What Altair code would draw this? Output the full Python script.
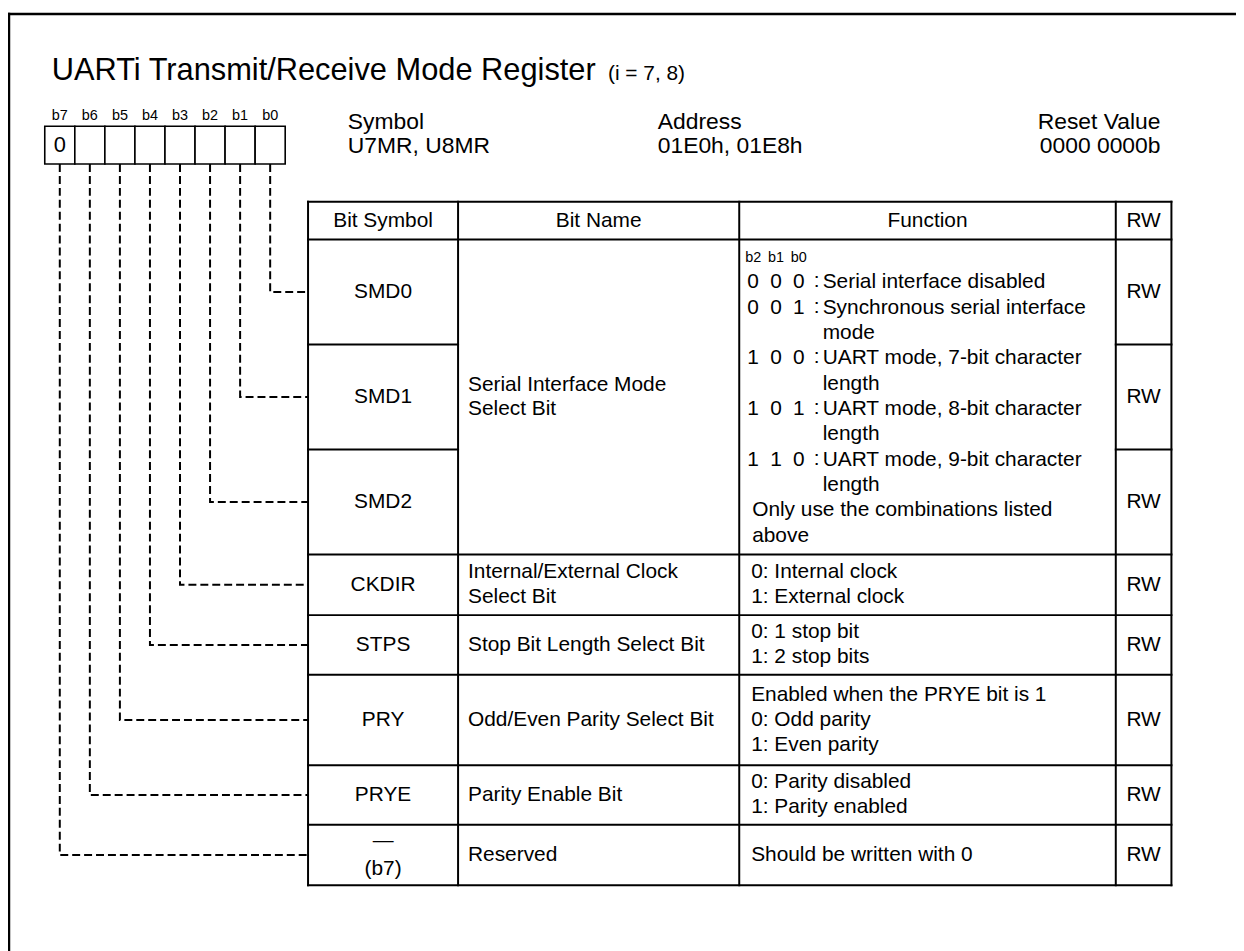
import altair as alt
import pandas as pd

# ---------------- data ----------------
title_main = "UARTi Transmit/Receive Mode Register"
title_sub = "(i = 7, 8)"
bit_labels = ["b7", "b6", "b5", "b4", "b3", "b2", "b1", "b0"]
bit_values = ["0", "", "", "", "", "", "", ""]
info_heads = ["Symbol", "Address", "Reset Value"]
info_vals = ["U7MR, U8MR", "01E0h, 01E8h", "0000 0000b"]
col_heads = ["Bit Symbol", "Bit Name", "Function", "RW"]
symbols = ["SMD0", "SMD1", "SMD2", "CKDIR", "STPS", "PRY", "PRYE", "\u2014\n(b7)"]
row_bits = [0, 1, 2, 3, 4, 5, 6, 7]          # register bit described by each row
names = ["Serial Interface Mode\nSelect Bit", "Internal/External Clock\nSelect Bit",
         "Stop Bit Length Select Bit", "Odd/Even Parity Select Bit",
         "Parity Enable Bit", "Reserved"]
name_span = [3, 1, 1, 1, 1, 1]               # rows covered by each Bit Name cell
smd_bits = ["b2", "b1", "b0"]
smd_codes = [["0", "0", "0"], ["0", "0", "1"], ["1", "0", "0"], ["1", "0", "1"], ["1", "1", "0"]]
smd_desc = ["Serial interface disabled", "Synchronous serial interface\nmode",
            "UART mode, 7-bit character\nlength", "UART mode, 8-bit character\nlength",
            "UART mode, 9-bit character\nlength"]
smd_note = "Only use the combinations listed\nabove"
functions = ["0: Internal clock\n1: External clock", "0: 1 stop bit\n1: 2 stop bits",
             "Enabled when the PRYE bit is 1\n0: Odd parity\n1: Even parity",
             "0: Parity disabled\n1: Parity enabled", "Should be written with 0"]
rw = ["RW", "RW", "RW", "RW", "RW", "RW", "RW", "RW"]

# ---------------- layout ----------------
FONT = "Liberation Sans"
W, H = 1236, 943
OX, OY = 8, 8
FRAME_X, FRAME_Y = 9, 11
TITLE_X, TITLE_Y, TITLE_FS, SUB_FS = 52, 77, 31, 21
SUB_X = TITLE_X + 18.06 * TITLE_FS
BOX_X0, BOX_W, BOX_Y0, BOX_Y1 = 45, 30.25, 124, 162
BITLBL_Y, BITLBL_FS = 118, 14.5
INFO_X = [350, 662, 1168]
INFO_ALIGN = ["left", "left", "right"]
INFO_Y = [120, 144]
INFO_FS = 23
COLS = [310, 461, 744, 1123, 1179]
TOP, HEAD_B = 200, 238
ROW_H = [105.67, 105.67, 105.67, 61, 60, 91, 60, 61]
FS, LH = 21, 25
PAD = 10
SMD_LH = 25.5
SMD_HDR_Y, SMD_FIRST_Y = 257, 281
CODE_X = [758, 781, 804]
COLON_X, DESC_X = 822, 828

xs = alt.Scale(domain=[OX, OX + W], nice=False, zero=False)
ys = alt.Scale(domain=[OY, OY + H], nice=False, zero=False, reverse=True)
X = alt.X("x:Q", scale=xs, axis=None)
Y = alt.Y("y:Q", scale=ys, axis=None)

row_top = [HEAD_B]
for h in ROW_H:
    row_top.append(row_top[-1] + h)
row_mid = [(row_top[i] + row_top[i + 1]) / 2 for i in range(len(ROW_H))]
BOTTOM = row_top[-1]


def lines_at(text, cx, cy, lh):
    parts = text.split("\n")
    n = len(parts)
    return [dict(x=cx, y=cy - (n - 1) / 2 * lh + i * lh, t=p) for i, p in enumerate(parts)]


def text_layer(rows, align="center", fs=FS, baseline="middle"):
    df = pd.DataFrame(rows)
    return alt.Chart(df).mark_text(align=align, baseline=baseline, fontSize=fs, font=FONT,
                                   color="black").encode(x=X, y=Y, text="t:N")


def rule_layer(segs, sw=2):
    df = pd.DataFrame(segs)
    return alt.Chart(df).mark_rule(strokeWidth=sw, color="black", strokeCap="square").encode(
        x=X, y=Y, x2="x2:Q", y2="y2:Q")


layers = []

# frame (top and left edges; the rest lies beyond the picture)
layers.append(rule_layer([dict(x=FRAME_X, y=FRAME_Y, x2=1300, y2=FRAME_Y),
                          dict(x=FRAME_X, y=FRAME_Y, x2=FRAME_X, y2=1000)], sw=2.5))

# title
layers.append(text_layer([dict(x=TITLE_X, y=TITLE_Y, t=title_main)], "left", TITLE_FS, "alphabetic"))
layers.append(text_layer([dict(x=SUB_X, y=TITLE_Y, t=title_sub)], "left", SUB_FS, "alphabetic"))

# bit boxes
cells = pd.DataFrame([dict(x=BOX_X0 + i * BOX_W, x2=BOX_X0 + (i + 1) * BOX_W, y=BOX_Y0, y2=BOX_Y1)
                      for i in range(len(bit_labels))])
layers.append(alt.Chart(cells).mark_rect(fill="white", stroke="black", strokeWidth=1.6)
              .encode(x=X, y=Y, x2="x2:Q", y2="y2:Q"))
cx = [BOX_X0 + (i + 0.5) * BOX_W for i in range(len(bit_labels))]
layers.append(text_layer([dict(x=cx[i], y=BITLBL_Y, t=b) for i, b in enumerate(bit_labels)],
                         "center", BITLBL_FS, "alphabetic"))
layers.append(text_layer([dict(x=cx[i], y=(BOX_Y0 + BOX_Y1) / 2, t=v) for i, v in enumerate(bit_values) if v],
                         "center", 22))

# symbol / address / reset value
for k in range(3):
    layers.append(text_layer([dict(x=INFO_X[k], y=INFO_Y[0], t=info_heads[k]),
                              dict(x=INFO_X[k], y=INFO_Y[1], t=info_vals[k])], INFO_ALIGN[k], INFO_FS))

# table grid
segs = [dict(x=COLS[0], y=TOP, x2=COLS[-1], y2=TOP), dict(x=COLS[0], y=HEAD_B, x2=COLS[-1], y2=HEAD_B)]
for i in range(1, len(ROW_H) + 1):
    y = row_top[i]
    if i in (1, 2):
        segs.append(dict(x=COLS[0], y=y, x2=COLS[1], y2=y))
        segs.append(dict(x=COLS[3], y=y, x2=COLS[4], y2=y))
    else:
        segs.append(dict(x=COLS[0], y=y, x2=COLS[-1], y2=y))
for c in COLS:
    segs.append(dict(x=c, y=TOP, x2=c, y2=BOTTOM))
layers.append(rule_layer(segs, sw=2))

# header texts
hc = [(COLS[i] + COLS[i + 1]) / 2 for i in range(4)]
layers.append(text_layer([dict(x=hc[i], y=(TOP + HEAD_B) / 2, t=h) for i, h in enumerate(col_heads)]))

# bit symbols and RW
sym_rows, rw_rows = [], []
for i, s in enumerate(symbols):
    sym_rows += lines_at(s, hc[0], row_mid[i], 28)
    rw_rows.append(dict(x=hc[3], y=row_mid[i], t=rw[i]))
layers.append(text_layer(sym_rows))
layers.append(text_layer(rw_rows))

# bit names
nm_rows = []
r = 0
for n, span in zip(names, name_span):
    cy = (row_top[r] + row_top[r + span]) / 2
    nm_rows += lines_at(n, COLS[1] + PAD, cy, LH)
    r += span
layers.append(text_layer(nm_rows, "left"))

# function: SMD code table
layers.append(text_layer([dict(x=CODE_X[j], y=SMD_HDR_Y, t=b) for j, b in enumerate(smd_bits)], "center", 14.5))
code_rows, colon_rows, desc_rows = [], [], []
line = 0
for code, desc in zip(smd_codes, smd_desc):
    y = SMD_FIRST_Y + line * SMD_LH
    for j, d in enumerate(code):
        code_rows.append(dict(x=CODE_X[j], y=y, t=d))
    colon_rows.append(dict(x=COLON_X, y=y - 1, t=":"))
    for p in desc.split("\n"):
        desc_rows.append(dict(x=DESC_X, y=SMD_FIRST_Y + line * SMD_LH, t=p))
        line += 1
for p in smd_note.split("\n"):
    desc_rows.append(dict(x=COLS[2] + 13, y=SMD_FIRST_Y + line * SMD_LH, t=p))
    line += 1
layers.append(text_layer(code_rows, "center"))
layers.append(text_layer(colon_rows, "center"))
layers.append(text_layer(desc_rows, "left"))

# function: other rows
fn_rows = []
for k, f in enumerate(functions):
    fn_rows += lines_at(f, COLS[2] + 12, row_mid[3 + k], LH)
layers.append(text_layer(fn_rows, "left"))

# dashed connectors from each bit cell to its row
con = []
for i, b in enumerate(row_bits):
    bx = cx[7 - b]
    con += [dict(id=i, o=0, x=bx, y=BOX_Y1), dict(id=i, o=1, x=bx, y=row_mid[i]),
            dict(id=i, o=2, x=COLS[0], y=row_mid[i])]
layers.append(alt.Chart(pd.DataFrame(con)).mark_line(color="black", strokeWidth=2, strokeDash=[8, 4])
              .encode(x=X, y=Y, detail="id:N", order="o:Q"))

chart = (alt.layer(*layers)
         .properties(width=W, height=H, padding=0, autosize=alt.AutoSizeParams(type="none"),
                     background="white")
         .configure_view(stroke=None))

chart.save("out.html", embed_options={"renderer": "svg", "actions": False})
